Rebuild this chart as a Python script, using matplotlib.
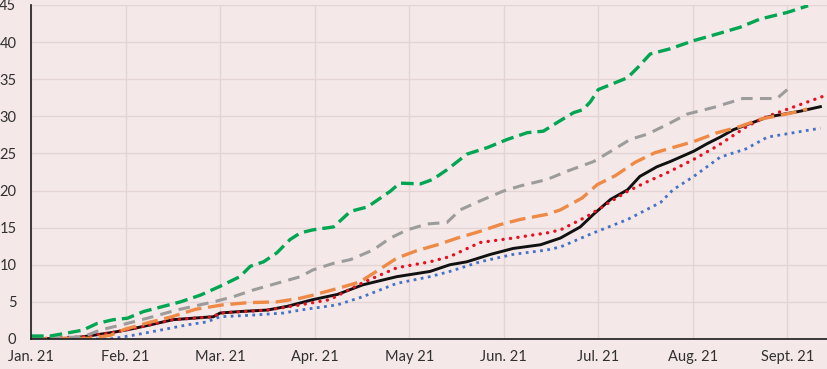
#!/usr/bin/env python3
"""Cumulative curves Jan-Sept 2021, six series."""

import matplotlib
matplotlib.use("Agg")
import matplotlib.pyplot as plt

# x positions are in months since Jan. 21 (0 = Jan, 1 = Feb, ...)
month_labels = ["Jan. 21", "Feb. 21", "Mar. 21", "Apr. 21", "May 21",
                "Jun. 21", "Jul. 21", "Aug. 21", "Sept. 21"]

green_x = [0.00, 0.20, 0.38, 0.55, 0.70, 0.87, 1.02, 1.19, 1.40, 1.58, 1.79,
           2.00, 2.21, 2.32, 2.46, 2.60, 2.74, 2.85, 2.98, 3.20, 3.38, 3.56,
           3.80, 3.90, 4.12, 4.25, 4.40, 4.61, 4.83, 5.04, 5.25, 5.42, 5.57,
           5.74, 5.84, 5.92, 6.00, 6.31, 6.42, 6.55, 6.76, 7.01, 7.26, 7.50,
           7.71, 8.00, 8.22]
green_y = [0.4, 0.4, 0.8, 1.2, 2.1, 2.6, 2.8, 3.7, 4.4, 5.0, 5.9,
           7.1, 8.4, 9.8, 10.4, 11.6, 13.4, 14.3, 14.7, 15.1, 17.2, 17.8,
           19.9, 21.0, 20.9, 21.5, 22.8, 24.9, 25.8, 26.9, 27.8, 28.0, 29.2,
           30.5, 30.9, 32.0, 33.6, 35.2, 36.6, 38.4, 39.1, 40.2, 41.1, 42.0,
           43.1, 44.0, 44.9]

gray_x = [0.00, 0.55, 0.73, 1.02, 1.23, 1.54, 1.93, 2.14, 2.35, 2.60, 2.85,
          2.98, 3.20, 3.38, 3.62, 3.80, 3.98, 4.19, 4.40, 4.54, 4.75, 4.99,
          5.17, 5.46, 5.67, 5.95, 6.16, 6.34, 6.52, 6.73, 6.94, 7.22, 7.53,
          7.89, 8.00]
gray_y = [0.0, 0.3, 1.2, 2.1, 2.8, 3.9, 5.0, 5.7, 6.6, 7.5, 8.4,
          9.3, 10.2, 10.7, 12.0, 13.6, 14.7, 15.5, 15.7, 17.4, 18.6, 19.9,
          20.6, 21.5, 22.6, 23.9, 25.5, 26.9, 27.6, 28.9, 30.3, 31.2, 32.4,
          32.4, 33.6]

orange_x = [0.00, 0.62, 0.84, 0.99, 1.24, 1.49, 1.74, 2.03, 2.30, 2.60, 2.85,
            2.98, 3.27, 3.48, 3.69, 3.87, 4.08, 4.30, 4.51, 4.75, 4.96, 5.17,
            5.46, 5.60, 5.83, 5.99, 6.18, 6.39, 6.60, 6.79, 7.01, 7.26, 7.47,
            7.71, 8.14, 8.21]
orange_y = [0.0, 0.1, 0.5, 1.3, 2.2, 3.0, 4.0, 4.6, 4.9, 5.0, 5.5,
            5.9, 6.9, 7.7, 9.4, 10.9, 11.9, 12.7, 13.6, 14.5, 15.4, 16.1,
            16.8, 17.4, 19.0, 20.8, 22.0, 23.8, 25.1, 25.8, 26.6, 27.8, 28.5,
            29.6, 30.7, 31.0]

black_x = [0.00, 0.38, 0.55, 0.87, 1.08, 1.26, 1.50, 1.71, 1.93, 2.00, 2.21,
           2.50, 2.71, 2.98, 3.24, 3.51, 3.87, 4.22, 4.43, 4.61, 4.86, 5.10,
           5.39, 5.60, 5.81, 5.95, 6.13, 6.31, 6.44, 6.62, 6.76, 7.01, 7.15,
           7.29, 7.43, 7.79, 8.14, 8.35]
black_y = [0.0, 0.1, 0.3, 0.9, 1.4, 1.9, 2.6, 2.8, 3.0, 3.5, 3.7,
           3.9, 4.4, 5.3, 6.0, 7.3, 8.4, 9.1, 10.0, 10.4, 11.4, 12.2,
           12.7, 13.6, 15.1, 16.8, 18.8, 20.1, 21.9, 23.2, 23.9, 25.3, 26.3,
           27.2, 28.2, 29.9, 30.7, 31.3]

red_x = [0.00, 0.55, 0.87, 1.08, 1.50, 1.93, 2.00, 2.50, 2.85, 3.16, 3.51,
         3.87, 4.22, 4.43, 4.75, 5.10, 5.46, 5.60, 5.88, 6.13, 6.31, 6.52,
         6.73, 7.01, 7.26, 7.58, 7.79, 8.14, 8.38]
red_y = [0.0, 0.3, 0.9, 1.4, 2.6, 3.0, 3.5, 3.9, 4.6, 5.3, 7.6,
         9.6, 10.4, 11.1, 13.0, 13.6, 14.3, 14.7, 16.5, 18.5, 19.9, 21.2,
         22.4, 24.2, 26.0, 28.7, 30.0, 31.6, 32.7]

blue_x = [0.00, 0.84, 1.08, 1.37, 1.65, 1.86, 2.00, 2.32, 2.67, 2.85, 3.24,
          3.51, 3.87, 4.22, 4.43, 4.75, 5.10, 5.46, 5.60, 5.95, 6.31, 6.66,
          6.79, 7.01, 7.29, 7.56, 7.79, 8.35]
blue_y = [0.0, 0.0, 0.5, 1.2, 1.9, 2.3, 3.0, 3.2, 3.5, 3.9, 4.6,
          5.7, 7.5, 8.4, 9.1, 10.4, 11.4, 12.0, 12.4, 14.3, 16.1, 18.4,
          20.1, 21.9, 24.5, 25.6, 27.2, 28.4]

BG = "#F4E8E8"
GRID = "#E4D4D4"

plt.rcParams["font.family"] = ["Lato", "DejaVu Sans"]

fig = plt.figure(figsize=(8.27, 3.69), dpi=100, facecolor=BG)
ax = fig.add_axes([31 / 827, 30 / 369, 796 / 827, 334 / 369])
ax.set_facecolor(BG)

ax.plot(blue_x, blue_y, color="#4472C4", lw=2.0, linestyle=(0, (1.0, 1.6)),
        dash_capstyle="butt")
ax.plot(black_x, black_y, color="#111111", lw=2.1, solid_joinstyle="round")
ax.plot(red_x, red_y, color="#E8101E", lw=2.4, linestyle=(0, (0.05, 2.2)),
        dash_capstyle="round")
ax.plot(orange_x, orange_y, color="#EE8A45", lw=2.4, linestyle=(0, (4.8, 2.0)))
ax.plot(gray_x, gray_y, color="#9C9C9C", lw=2.2, linestyle=(0, (3.8, 2.4)))
ax.plot(green_x, green_y, color="#00A652", lw=2.4, linestyle=(0, (3.8, 1.8)))

ax.set_xlim(0, 8.42)
ax.set_ylim(0, 45)
ax.set_xticks(range(len(month_labels)))
ax.set_xticklabels(month_labels)
ax.set_yticks(range(0, 46, 5))

ax.grid(True, color=GRID, lw=1.0)
ax.set_axisbelow(True)
ax.tick_params(length=0, labelsize=10.5, colors="#303030")
ax.tick_params(axis="y", pad=10.5)
ax.tick_params(axis="x", pad=8)

for side in ("top", "right"):
    ax.spines[side].set_visible(False)
for side in ("left", "bottom"):
    ax.spines[side].set_color("#1a1a1a")
    ax.spines[side].set_linewidth(1.2)

fig.savefig("out.png", dpi=100, facecolor=BG)
